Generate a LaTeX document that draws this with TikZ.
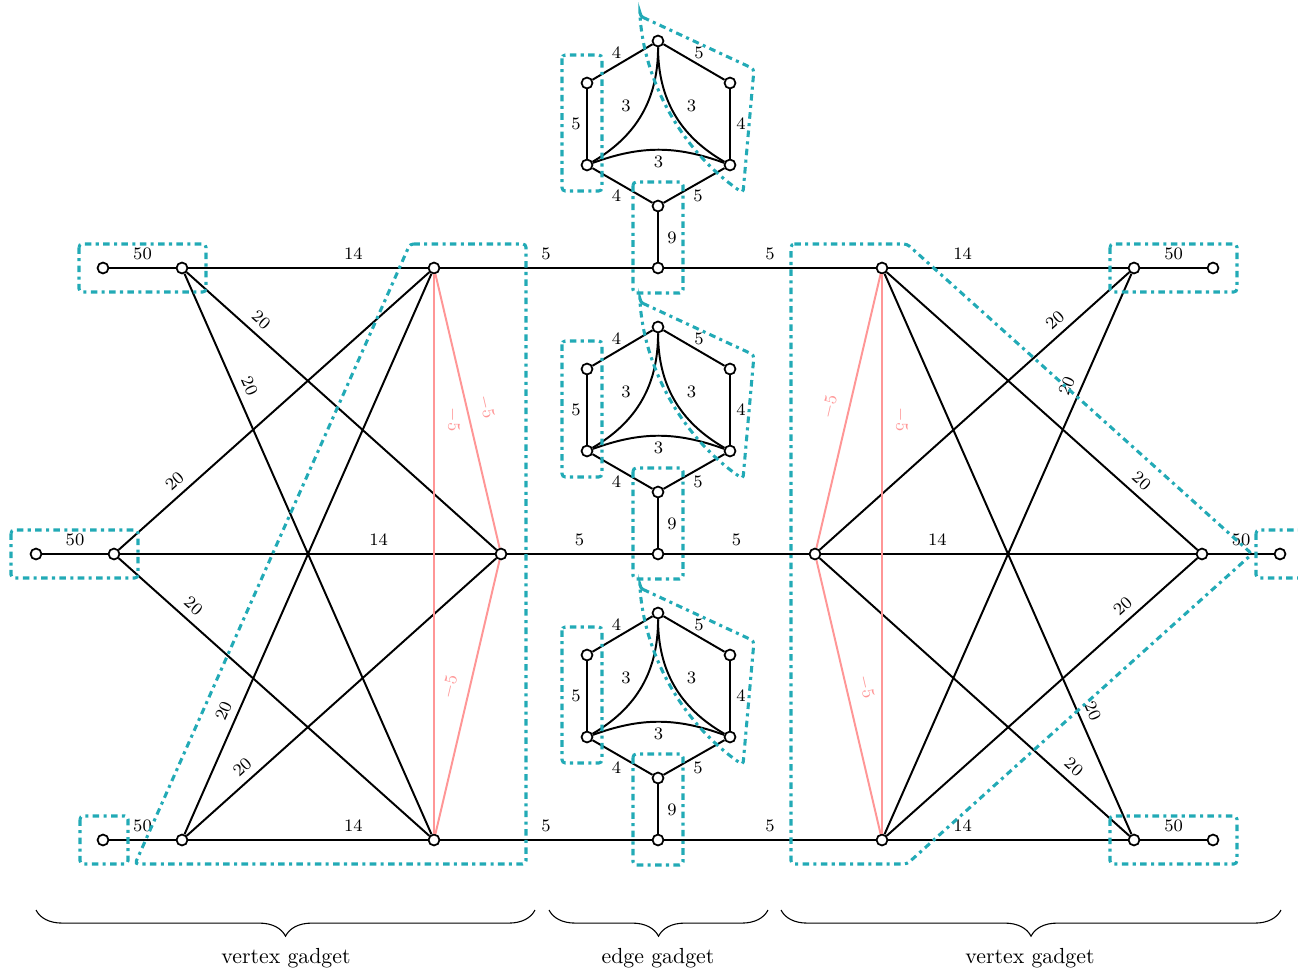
\documentclass[tikz,border=0pt]{standalone}
\usetikzlibrary{decorations.pathreplacing,calc}
\definecolor{gcyan}{RGB}{34,170,182}
\definecolor{lred}{RGB}{255,150,150}
\begin{document}
\begin{tikzpicture}[x=0.4585pt,y=-0.4585pt,
  vtx/.style={circle,draw,fill=white,line width=0.8pt,inner sep=0pt,minimum size=5pt},
  edg/.style={line width=0.9pt},
  neg/.style={line width=0.9pt,lred},
  lbl/.style={font=\footnotesize},
  nlbl/.style={font=\footnotesize,text=lred},
  grp/.style={gcyan,line width=1.4pt,dash dot,rounded corners=1.5pt},
  brc/.style={decorate,decoration={brace,mirror,amplitude=12pt},line width=0.5pt}]
\useasboundingbox (0,0) rectangle (1298,970);

% ---------- left vertex gadget ----------
\node[vtx] (L1) at (103,268) {};
\node[vtx] (A1) at (182,268) {};
\node[vtx] (B1) at (434,268) {};
\node[vtx] (L2) at (36,554) {};
\node[vtx] (A2) at (114,554) {};
\node[vtx] (B2) at (501,554) {};
\node[vtx] (L3) at (103,840) {};
\node[vtx] (A3) at (182,840) {};
\node[vtx] (B3) at (434,840) {};

% ---------- right vertex gadget ----------
\node[vtx] (R1) at (1213,268) {};
\node[vtx] (D1) at (1134,268) {};
\node[vtx] (C1) at (882,268) {};
\node[vtx] (R2) at (1280,554) {};
\node[vtx] (D2) at (1202,554) {};
\node[vtx] (C2) at (815,554) {};
\node[vtx] (R3) at (1213,840) {};
\node[vtx] (D3) at (1134,840) {};
\node[vtx] (C3) at (882,840) {};

% ---------- edge gadgets ----------
\foreach \i/\y in {1/268,2/554,3/840}{
  \node[vtx] (E\i) at (658,\y) {};
  \node[vtx] (HT\i) at (658,{\y-227}) {};
  \node[vtx] (HTR\i) at (730,{\y-185}) {};
  \node[vtx] (HBR\i) at (730,{\y-103}) {};
  \node[vtx] (HB\i) at (658,{\y-62}) {};
  \node[vtx] (HBL\i) at (587,{\y-103}) {};
  \node[vtx] (HTL\i) at (587,{\y-185}) {};
  \draw[edg] (HT\i) -- node[lbl,shift={(-6,-9)}]{4} (HTL\i);
  \draw[edg] (HT\i) -- node[lbl,shift={(5,-9)}]{5} (HTR\i);
  \draw[edg] (HTL\i) -- node[lbl,shift={(-11,0)}]{5} (HBL\i);
  \draw[edg] (HTR\i) -- node[lbl,shift={(11,0)}]{4} (HBR\i);
  \draw[edg] (HBL\i) -- node[lbl,shift={(-6,10)}]{4} (HB\i);
  \draw[edg] (HB\i) -- node[lbl,shift={(4,10)}]{5} (HBR\i);
  \draw[edg] (HT\i) to[bend left=30] node[lbl,shift={(-16,-8)}]{3} (HBL\i);
  \draw[edg] (HT\i) to[bend right=30] node[lbl,shift={(17,-8)}]{3} (HBR\i);
  \draw[edg] (HBL\i) to[bend left=20] node[lbl,shift={(0,12)}]{3} (HBR\i);
  \draw[edg] (HB\i) -- node[lbl,shift={(14,1)}]{9} (E\i);
}

% ---------- left gadget edges ----------
\draw[edg] (L1) -- node[lbl,above]{50} (A1);
\draw[edg] (L2) -- node[lbl,above]{50} (A2);
\draw[edg] (L3) -- node[lbl,above]{50} (A3);
\draw[edg] (A1) -- node[lbl,above,pos=.69]{14} (B1);
\draw[edg] (A2) -- node[lbl,above,pos=.69]{14} (B2);
\draw[edg] (A3) -- node[lbl,above,pos=.69]{14} (B3);
\draw[edg] (A1) -- node[lbl,above,sloped,pos=.21]{20} (B2);
\draw[edg] (A1) -- node[lbl,above,sloped,pos=.21]{20} (B3);
\draw[edg] (A2) -- node[lbl,above,sloped,pos=.21]{20} (B1);
\draw[edg] (A2) -- node[lbl,above,sloped,pos=.21]{20} (B3);
\draw[edg] (A3) -- node[lbl,above,sloped,pos=.21]{20} (B1);
\draw[edg] (A3) -- node[lbl,above,sloped,pos=.21]{20} (B2);
\draw[neg] (B1) -- node[nlbl,above=2pt,sloped,pos=.26]{$-5$} (B3);
\draw[neg] (B1) -- node[nlbl,above=2pt,sloped,pos=.5]{$-5$} (B2);
\draw[neg] (B3) -- node[nlbl,above=2pt,sloped,pos=.52]{$-5$} (B2);

% ---------- connections to edge gadgets ----------
\draw[edg] (B1) -- node[lbl,above]{5} (E1);
\draw[edg] (B2) -- node[lbl,above]{5} (E2);
\draw[edg] (B3) -- node[lbl,above]{5} (E3);
\draw[edg] (E1) -- node[lbl,above]{5} (C1);
\draw[edg] (E2) -- node[lbl,above]{5} (C2);
\draw[edg] (E3) -- node[lbl,above]{5} (C3);

% ---------- right gadget edges ----------
\draw[edg] (D1) -- node[lbl,above]{50} (R1);
\draw[edg] (D2) -- node[lbl,above]{50} (R2);
\draw[edg] (D3) -- node[lbl,above]{50} (R3);
\draw[edg] (C1) -- node[lbl,above,pos=.31]{14} (D1);
\draw[edg] (C2) -- node[lbl,above,pos=.31]{14} (D2);
\draw[edg] (C3) -- node[lbl,above,pos=.31]{14} (D3);
\draw[edg] (D1) -- node[lbl,above,sloped,pos=.21]{20} (C2);
\draw[edg] (D1) -- node[lbl,above,sloped,pos=.21]{20} (C3);
\draw[edg] (D2) -- node[lbl,above,sloped,pos=.21]{20} (C1);
\draw[edg] (D2) -- node[lbl,above,sloped,pos=.21]{20} (C3);
\draw[edg] (D3) -- node[lbl,above,sloped,pos=.21]{20} (C1);
\draw[edg] (D3) -- node[lbl,above,sloped,pos=.21]{20} (C2);
\draw[neg] (C1) -- node[nlbl,above=2pt,sloped,pos=.26]{$-5$} (C3);
\draw[neg] (C2) -- node[nlbl,above=2pt,sloped,pos=.5]{$-5$} (C1);
\draw[neg] (C2) -- node[nlbl,above=2pt,sloped,pos=.48]{$-5$} (C3);

% ---------- groups (dash-dot) ----------
\foreach \y in {268,554,840}{
  \draw[grp] (562,{\y-213}) rectangle (602,{\y-77});
  \draw[grp] (633,{\y-86}) rectangle (683,{\y+25});
  \draw[grp] (640,{\y-252}) -- (754,{\y-199}) -- (743,{\y-75}) .. controls (680,{\y-118}) and (645,{\y-188}) .. cycle;
}
\draw[grp] (79,244) rectangle (206,292);
\draw[grp] (11,530) rectangle (138,578);
\draw[grp] (80,816) rectangle (128,864);
\draw[grp] (410,244) -- (526,244) -- (526,864) -- (135,864) -- cycle;
\draw[grp] (1110,244) rectangle (1237,292);
\draw[grp] (1110,816) rectangle (1237,864);
\draw[grp] (1256,530) rectangle (1304,578);
\draw[grp] (791,244) -- (907,244) -- (1252,554) -- (907,864) -- (791,864) -- cycle;

% ---------- braces ----------
\coordinate (bl1) at (36,910);
\coordinate (bl2) at (535,910);
\coordinate (bm1) at (549,910);
\coordinate (bm2) at (768,910);
\coordinate (br1) at (781,910);
\coordinate (br2) at (1281,910);
\draw[brc] (bl1) -- (bl2);
\draw[brc] (bm1) -- (bm2);
\draw[brc] (br1) -- (br2);
\node (vg1) at (286,958) {vertex gadget};
\node (eg) at (658,958) {edge gadget};
\node (vg2) at (1030,958) {vertex gadget};
\end{tikzpicture}
\end{document}
